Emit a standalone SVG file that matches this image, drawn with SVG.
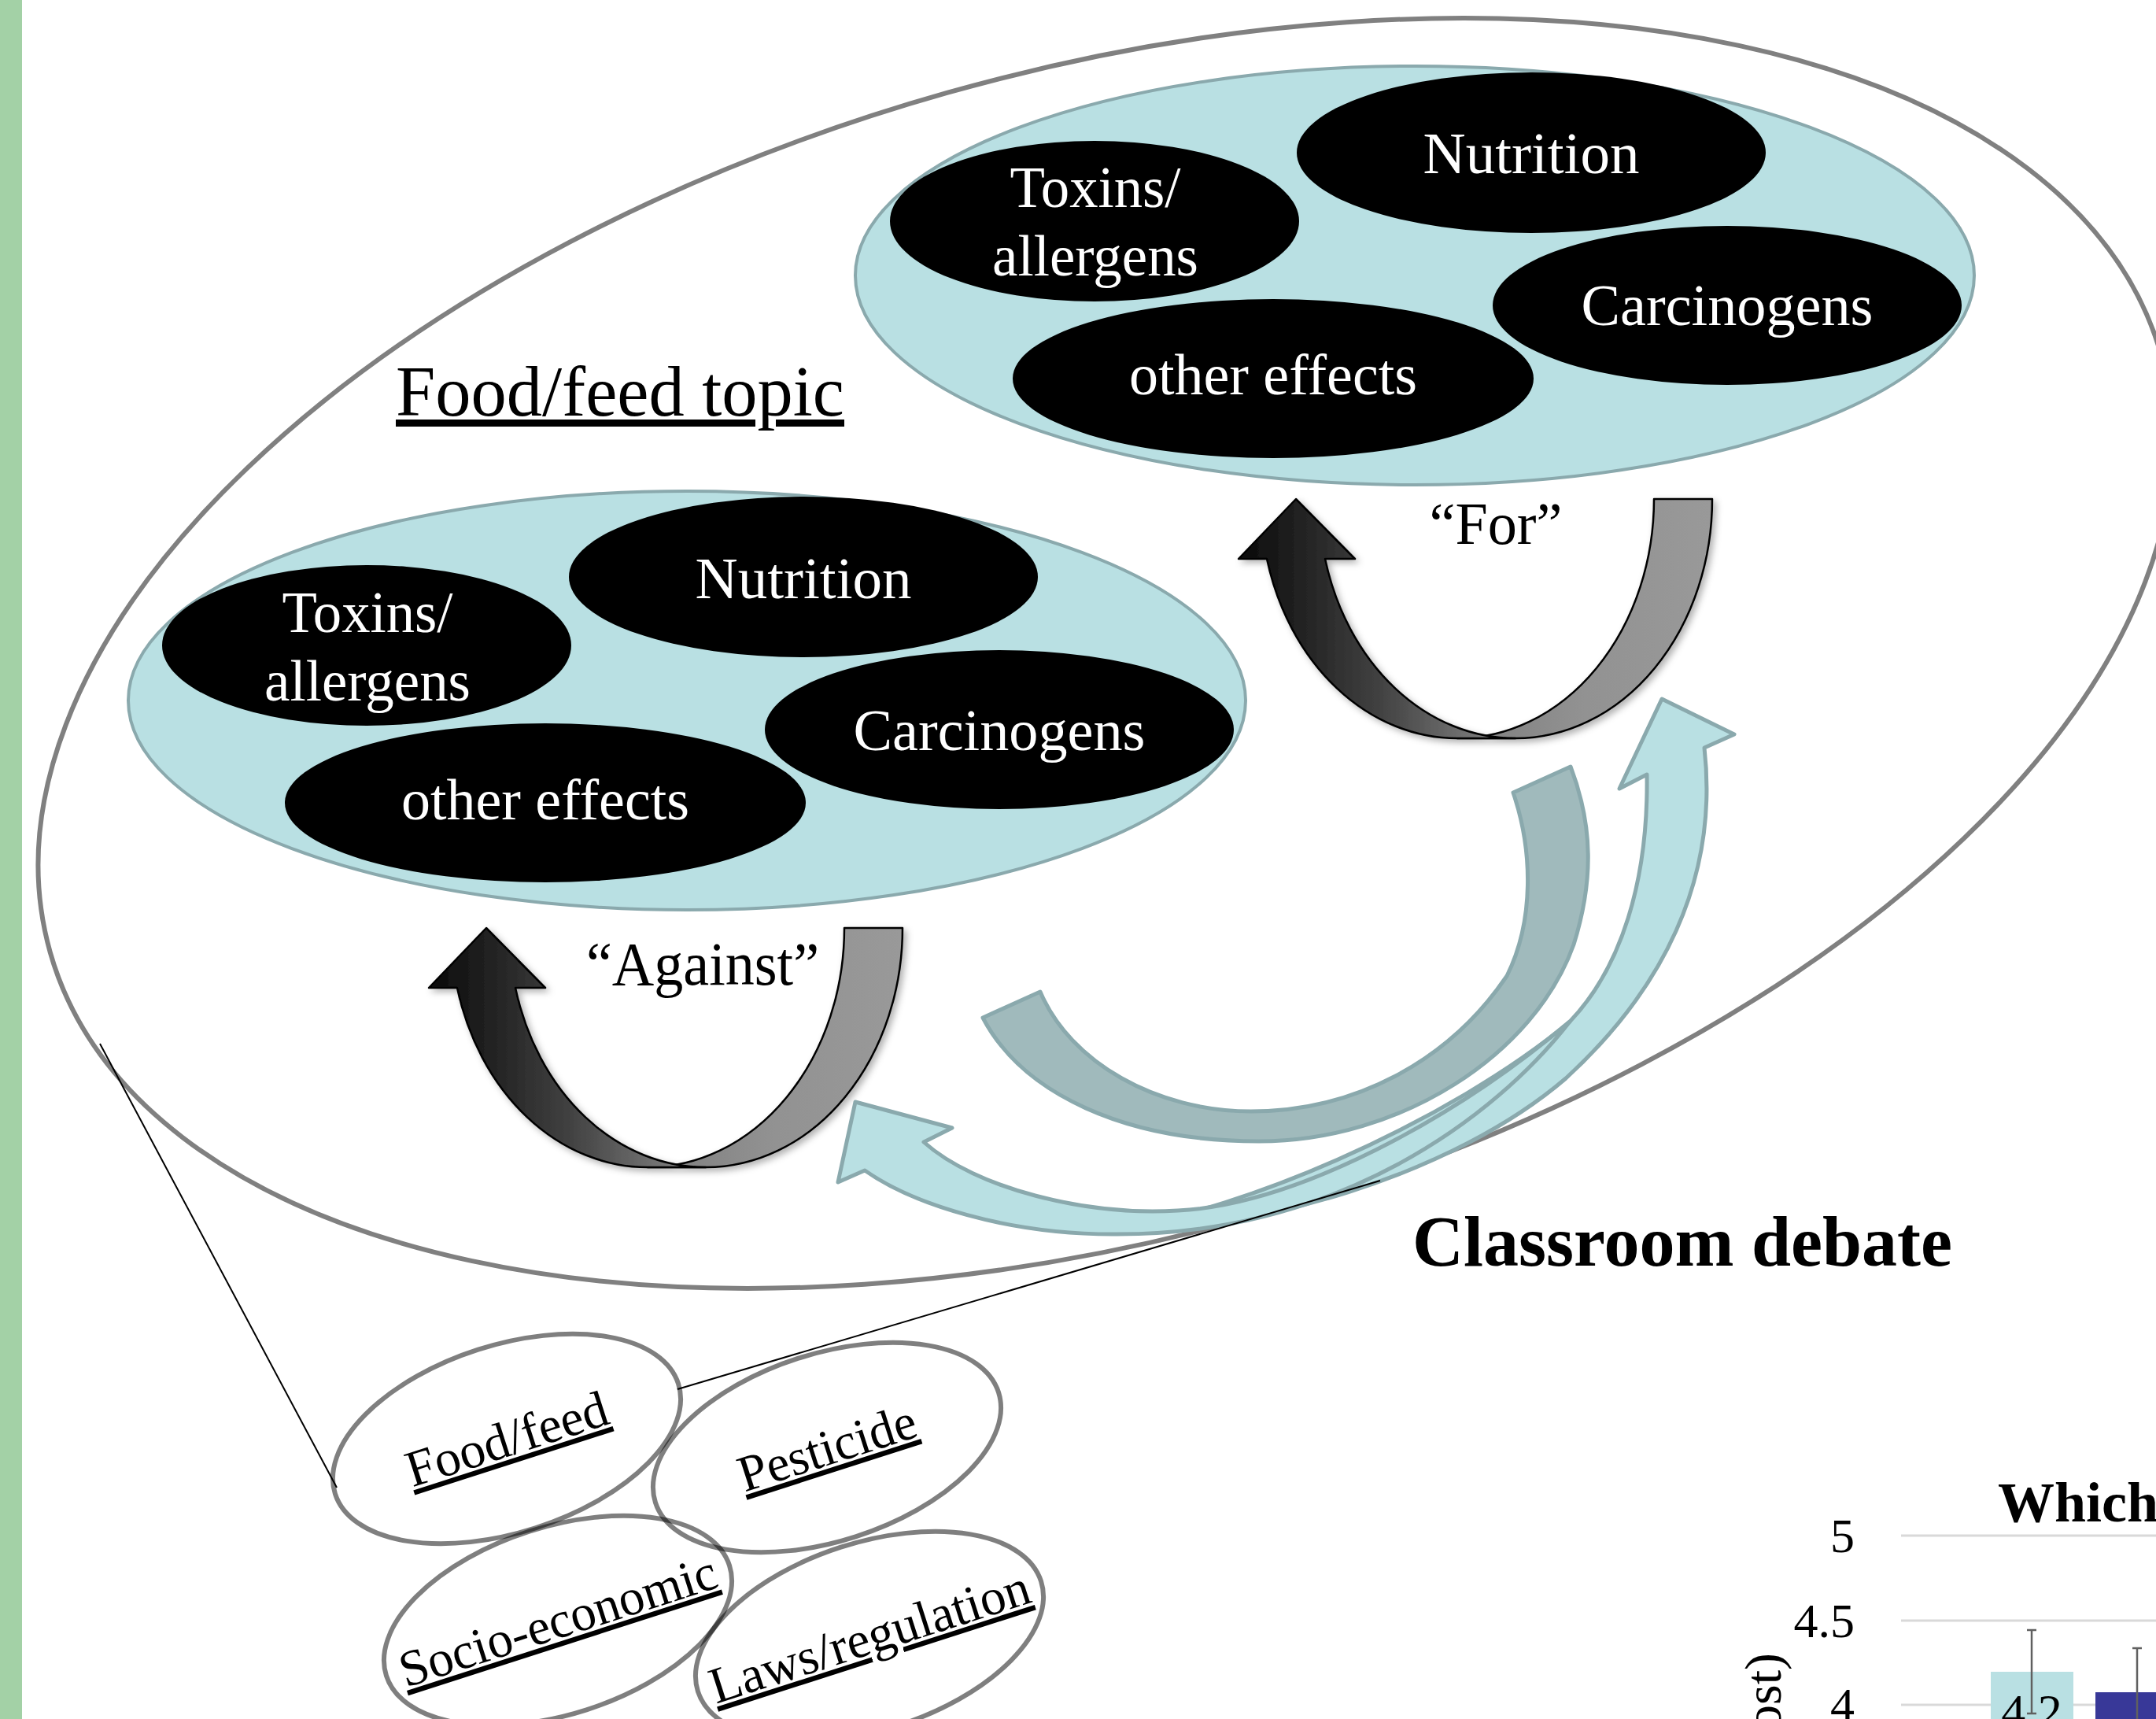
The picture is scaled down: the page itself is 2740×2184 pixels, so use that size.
<svg xmlns="http://www.w3.org/2000/svg" width="2740" height="2184" viewBox="0 0 2740 2184">
<style>
  .serif { font-family: "Liberation Serif", "Times New Roman", serif; }
  .wt { fill: #ffffff; font-size: 74px; text-anchor: middle; }
  .bt { fill: #000000; text-anchor: middle; }
  .cyan { fill: #b9e0e3; stroke: #8aa9ad; stroke-width: 4; }
  .node { fill: #000000; }
  .small { fill: none; stroke: #000000; stroke-opacity: 0.5; stroke-width: 6; }
  .lbl { font-size: 65px; text-decoration: underline; }
  .band { stroke: #000000; stroke-width: 2.5; stroke-linejoin: round; }
  .light { fill: #b9e0e3; stroke: #8aa9ad; stroke-width: 5; stroke-linejoin: round; }
  .dark { fill: #96b3b5; fill-opacity: 0.9; stroke: #8aa9ad; stroke-width: 5; stroke-linejoin: round; }
  .thin { stroke: #000000; stroke-width: 2; fill: none; }
  .grid { stroke: #d9d9d9; stroke-width: 3; }
  .tick { font-size: 62px; text-anchor: end; fill: #000; }
  .err { stroke: #606060; stroke-width: 2.5; fill: none; }
</style>
<defs>
  <linearGradient id="gLeft" x1="0" y1="0" x2="1" y2="0">
    <stop offset="0" stop-color="#0a0a0a"/>
    <stop offset="0.5" stop-color="#404040"/>
    <stop offset="1" stop-color="#8c8c8c"/>
  </linearGradient>
  <linearGradient id="gRight" x1="0" y1="0" x2="1" y2="0">
    <stop offset="0" stop-color="#7d7d7d"/>
    <stop offset="0.5" stop-color="#929292"/>
    <stop offset="1" stop-color="#999999"/>
  </linearGradient>
  <filter id="sh" x="-10%" y="-10%" width="130%" height="130%">
    <feDropShadow dx="4" dy="4" stdDeviation="4" flood-color="#000" flood-opacity="0.3"/>
  </filter>
</defs>

<rect x="0" y="0" width="2740" height="2184" fill="#ffffff"/>
<rect x="0" y="0" width="28" height="2184" fill="#a3d1a6"/>

<!-- Outer topic ellipse -->
<g id="food-feed-topic">
  <ellipse cx="1405" cy="830" rx="1394" ry="740" transform="rotate(-15.8 1405 830)" fill="none" stroke="#808080" stroke-width="6"/>
  <text class="serif bt" x="788" y="528" font-size="90" text-decoration="underline" textLength="570" lengthAdjust="spacingAndGlyphs">Food/feed topic</text>
</g>

<!-- Against cluster -->
<g id="against-set">
  <ellipse class="cyan" cx="873" cy="890" rx="710" ry="266"/>
  <g id="against-toxins">
    <ellipse class="node" cx="466" cy="820" rx="260" ry="102"/>
    <text class="serif wt" x="467" y="803" textLength="217" lengthAdjust="spacingAndGlyphs">Toxins/</text>
    <text class="serif wt" x="467" y="890" textLength="262" lengthAdjust="spacingAndGlyphs">allergens</text>
  </g>
  <g id="against-nutrition">
    <ellipse class="node" cx="1021" cy="733" rx="298" ry="102"/>
    <text class="serif wt" x="1021" y="760" textLength="275" lengthAdjust="spacingAndGlyphs">Nutrition</text>
  </g>
  <g id="against-carcinogens">
    <ellipse class="node" cx="1270" cy="927" rx="298" ry="101"/>
    <text class="serif wt" x="1270" y="953" textLength="371" lengthAdjust="spacingAndGlyphs">Carcinogens</text>
  </g>
  <g id="against-other">
    <ellipse class="node" cx="693" cy="1020" rx="331" ry="101"/>
    <text class="serif wt" x="693" y="1041" textLength="366" lengthAdjust="spacingAndGlyphs">other effects</text>
  </g>
</g>

<!-- For cluster -->
<g id="for-set">
  <ellipse class="cyan" cx="1798" cy="350" rx="711" ry="266"/>
  <g id="for-toxins">
    <ellipse class="node" cx="1391" cy="281" rx="260" ry="102"/>
    <text class="serif wt" x="1392" y="263" textLength="217" lengthAdjust="spacingAndGlyphs">Toxins/</text>
    <text class="serif wt" x="1392" y="350" textLength="262" lengthAdjust="spacingAndGlyphs">allergens</text>
  </g>
  <g id="for-nutrition">
    <ellipse class="node" cx="1946" cy="194" rx="298" ry="102"/>
    <text class="serif wt" x="1946" y="220" textLength="275" lengthAdjust="spacingAndGlyphs">Nutrition</text>
  </g>
  <g id="for-carcinogens">
    <ellipse class="node" cx="2195" cy="388" rx="298" ry="101"/>
    <text class="serif wt" x="2195" y="413" textLength="371" lengthAdjust="spacingAndGlyphs">Carcinogens</text>
  </g>
  <g id="for-other">
    <ellipse class="node" cx="1618" cy="481" rx="331" ry="101"/>
    <text class="serif wt" x="1618" y="501" textLength="366" lengthAdjust="spacingAndGlyphs">other effects</text>
  </g>
</g>

<!-- Connectors -->
<g id="connectors">
  <!-- Against U-turn arrow -->
  <g id="against-arrow" filter="url(#sh)">
    <path class="band" fill="url(#gRight)" d="M 1073,1179 L 1147,1179 A 250,304 0 0 1 897,1483 L 823,1483 A 250,304 0 0 0 1073,1179 Z"/>
    <path class="band" fill="url(#gLeft)" d="M 581,1255 L 545,1255 L 618,1179 L 693,1255 L 655,1255 A 250,304 0 0 0 897,1483 L 823,1483 A 250,304 0 0 1 581,1255 Z"/>
  </g>
  <!-- For U-turn arrow -->
  <g id="for-arrow" filter="url(#sh)" transform="translate(1029,-545)">
    <path class="band" fill="url(#gRight)" d="M 1073,1179 L 1147,1179 A 250,304 0 0 1 897,1483 L 823,1483 A 250,304 0 0 0 1073,1179 Z"/>
    <path class="band" fill="url(#gLeft)" d="M 581,1255 L 545,1255 L 618,1179 L 693,1255 L 655,1255 A 250,304 0 0 0 897,1483 L 823,1483 A 250,304 0 0 1 581,1255 Z"/>
  </g>

  <!-- light teal arrows -->
  <path id="to-for" class="light" d="M 1370,1566 C 1560,1555 1850,1420 1995,1298 C 2060,1230 2095,1120 2093,984 L 2058,1002 L 2112,888 L 2204,933 L 2166,950 C 2185,1120 2110,1260 1990,1370 C 1850,1490 1600,1570 1370,1566 Z"/>
  <path id="to-against" class="light" d="M 1174,1451 L 1210,1433 L 1087,1400 L 1065,1502 L 1099,1487 C 1160,1530 1280,1568 1414,1568 C 1700,1570 1900,1420 1995,1298 C 1850,1420 1650,1530 1497,1538 C 1380,1545 1240,1510 1174,1451 Z"/>
  <!-- dark teal band -->
  <path id="exchange" class="dark" d="M 1249,1293 C 1300,1390 1430,1450 1600,1450 C 1780,1450 1950,1340 2000,1200 C 2025,1120 2025,1050 1996,974 L 1923,1007 C 1948,1080 1950,1170 1915,1240 C 1840,1350 1720,1412 1590,1412 C 1470,1412 1360,1350 1322,1260 Z"/>

  <!-- zoom lines -->
  <line class="thin" x1="127" y1="1326" x2="428" y2="1890"/>
  <line class="thin" x1="861" y1="1765" x2="1754" y2="1500"/>
</g>

<g id="labels">
  <text class="serif bt" x="893" y="1251" font-size="78" textLength="296" lengthAdjust="spacingAndGlyphs">“Against”</text>
  <text class="serif bt" x="1901" y="691" font-size="76" textLength="169" lengthAdjust="spacingAndGlyphs">“For”</text>
  <text class="serif bt" x="2138" y="1608" font-size="90" font-weight="bold" textLength="686" lengthAdjust="spacingAndGlyphs">Classroom debate</text>
</g>

<!-- Topic ellipses -->
<g id="topic-food">
  <g transform="translate(644,1828) rotate(-17.8)">
    <ellipse class="small" cx="0" cy="0" rx="229" ry="119"/>
    <text class="serif bt lbl" x="0" y="22" textLength="266" lengthAdjust="spacingAndGlyphs">Food/feed</text>
  </g>
</g>
<g id="topic-pesticide">
  <g transform="translate(1051,1839) rotate(-17.8)">
    <ellipse class="small" cx="0" cy="0" rx="229" ry="119"/>
    <text class="serif bt lbl" x="0" y="22" textLength="234" lengthAdjust="spacingAndGlyphs">Pesticide</text>
  </g>
</g>
<g id="topic-socio">
  <g transform="translate(709,2059) rotate(-17.8)">
    <ellipse class="small" cx="0" cy="0" rx="229" ry="119"/>
    <text class="serif bt lbl" x="0" y="22" textLength="420" lengthAdjust="spacingAndGlyphs">Socio-economic</text>
  </g>
</g>
<g id="topic-laws">
  <g transform="translate(1105,2079) rotate(-17.8)">
    <ellipse class="small" cx="0" cy="0" rx="229" ry="119"/>
    <text class="serif bt lbl" x="0" y="22" textLength="424" lengthAdjust="spacingAndGlyphs">Laws/regulation</text>
  </g>
</g>

<!-- Chart fragment -->
<g id="chart">
  <line class="grid" x1="2416" y1="1951" x2="2740" y2="1951"/>
  <line class="grid" x1="2416" y1="2059" x2="2740" y2="2059"/>
  <line class="grid" x1="2416" y1="2166" x2="2740" y2="2166"/>
  <text class="serif tick" x="2357" y="1972">5</text>
  <text class="serif tick" x="2357" y="2080">4.5</text>
  <text class="serif tick" x="2357" y="2187">4</text>
  <text class="serif" x="2263" y="2100" font-size="66" text-anchor="end" transform="rotate(-90 2263 2100)">ost)</text>
  <text class="serif" x="2539" y="1933" font-size="72" font-weight="bold">Which</text>
  <rect x="2530" y="2124" width="105" height="60" fill="#b9e0e3"/>
  <rect x="2663" y="2150" width="77" height="34" fill="#383898"/>
  <text class="serif" x="2582" y="2195" font-size="62" text-anchor="middle">4.2</text>
  <path class="err" d="M 2582,2071 V 2177 M 2576,2071 H 2588 M 2576,2177 H 2588"/>
  <path class="err" d="M 2716,2094 V 2184 M 2710,2094 H 2722"/>
</g>
</svg>
